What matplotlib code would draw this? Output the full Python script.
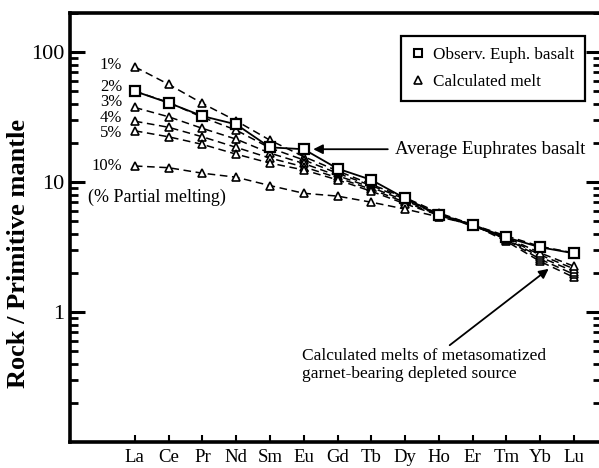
import numpy as np
import matplotlib
matplotlib.use("Agg")
import matplotlib.pyplot as plt
from matplotlib.ticker import LogLocator, NullFormatter, FixedLocator, FixedFormatter

plt.rcParams['font.family'] = ['Liberation Serif', 'DejaVu Serif']

elements = ['La', 'Ce', 'Pr', 'Nd', 'Sm', 'Eu', 'Gd', 'Tb', 'Dy', 'Ho', 'Er', 'Tm', 'Yb', 'Lu']

# observed average Euphrates basalt
observed = [50, 40.7, 32.2, 27.8, 18.5, 17.9, 12.7, 10.4, 7.5, 5.6, 4.7, 3.75, 3.15, 2.83]

# calculated melts for different degrees of partial melting
melt_labels = ['1%', '2%', '3%', '4%', '5%', '10%']
melt_1 = [77, 56.5, 40.3, 29.6, 21.0, 15.7, 12.2, 9.6, 7.6, 5.8, 4.7, 3.5, 2.45, 1.85]
melt_2 = [50, 41, 31.5, 25.1, 18.3, 14.8, 11.7, 9.4, 7.4, 5.7, 4.7, 3.6, 2.55, 1.95]
melt_3 = [37.5, 31.8, 25.9, 21.4, 16.7, 13.9, 11.2, 9.1, 7.2, 5.65, 4.65, 3.65, 2.65, 2.05]
melt_4 = [29.4, 26.4, 22.3, 18.5, 15.3, 13.1, 10.8, 8.8, 7.0, 5.6, 4.6, 3.7, 2.75, 2.15]
melt_5 = [24.8, 22.3, 19.5, 16.4, 14.0, 12.4, 10.4, 8.5, 6.8, 5.55, 4.6, 3.75, 2.85, 2.25]
melt_10 = [13.3, 12.9, 11.7, 10.9, 9.4, 8.2, 7.8, 7.0, 6.2, 5.4, 4.7, 3.85, 3.2, 2.85]
melts = [melt_1, melt_2, melt_3, melt_4, melt_5, melt_10]

# y positions of the % labels at the left end of the melt curves
label_y = [80, 54, 41, 31.2, 24.0, 13.3]

x = np.arange(len(elements))

fig = plt.figure(figsize=(5.99, 4.68), dpi=100)
ax = fig.add_axes([70/599, 1-442/468, 531/599, (442-13)/468])

for m in melts:
    ax.plot(x, m, ls=(0, (5, 3)), color='black', lw=1.1, marker='^',
            ms=5.5, mfc='white', mec='black', mew=1.2, zorder=2)
ax.plot(x, observed, ls='-', color='black', lw=1.3, marker='s',
        ms=6.5, mfc='white', mec='black', mew=1.6, zorder=3)

ax.set_yscale('log')
ax.set_ylim(0.1, 200)
ax.set_xlim(-1.92, 13.8)

ax.xaxis.set_major_locator(FixedLocator(x))
ax.xaxis.set_major_formatter(FixedFormatter(elements))
ax.yaxis.set_major_locator(FixedLocator([1, 10, 100]))
ax.yaxis.set_major_formatter(FixedFormatter(['1', '10', '100']))
ax.yaxis.set_minor_locator(LogLocator(base=10, subs=np.arange(2, 10)))
ax.yaxis.set_minor_formatter(NullFormatter())

ax.tick_params(axis='x', which='major', direction='in', length=5, width=1.5,
               labelsize=13.5, pad=5, top=False)
ax.tick_params(axis='y', which='major', direction='in', length=11, width=2.2,
               labelsize=16, pad=4, right=True)
ax.tick_params(axis='y', which='minor', direction='in', length=6, width=2.0, right=True)
for s in ax.spines.values():
    s.set_linewidth(2.6)

ax.set_ylabel('Rock / Primitive mantle', fontsize=19, fontweight='bold')
ax.yaxis.set_label_coords(-0.075, 0.44)

for lab, yy in zip(melt_labels, label_y):
    ax.text(-0.38, yy, lab, ha='right', va='center', fontsize=12, linespacing=1.0)
ax.text(-1.4, 7.6, '(% Partial melting)', ha='left', va='center', fontsize=13)

ax.annotate('Average Euphrates basalt', xy=(5.28, 17.9), xytext=(13.33, 17.9),
            ha='right', va='center', fontsize=13.5,
            arrowprops=dict(arrowstyle='-|>', color='black', lw=1.3,
                            mutation_scale=14, shrinkA=3, shrinkB=0,
                            relpos=(0.0, 0.5)))
ax.annotate('Calculated melts of metasomatized\ngarnet-bearing depleted source',
            xy=(12.25, 2.15), xytext=(4.95, 0.39), ha='left', va='center',
            fontsize=12.5, linespacing=1.2,
            arrowprops=dict(arrowstyle='-|>', color='black', lw=1.3,
                            mutation_scale=14, shrinkA=0, shrinkB=0,
                            relpos=(0.59, 1.0)))

h1, = ax.plot([], [], ls='none', marker='s', ms=6, mfc='white', mec='black', mew=1.5)
h2, = ax.plot([], [], ls='none', marker='^', ms=5.5, mfc='white', mec='black', mew=1.2)
leg = ax.legend([h1, h2], ['Observ. Euph. basalt', 'Calculated melt'],
                loc='upper right', bbox_to_anchor=(0.97, 0.946), borderaxespad=0,
                fontsize=12.3, fancybox=False, framealpha=1, edgecolor='black',
                handlelength=0.7, handletextpad=0.5, borderpad=0.65, labelspacing=0.6)
leg.get_frame().set_linewidth(1.6)

fig.savefig('out.png', dpi=100)
